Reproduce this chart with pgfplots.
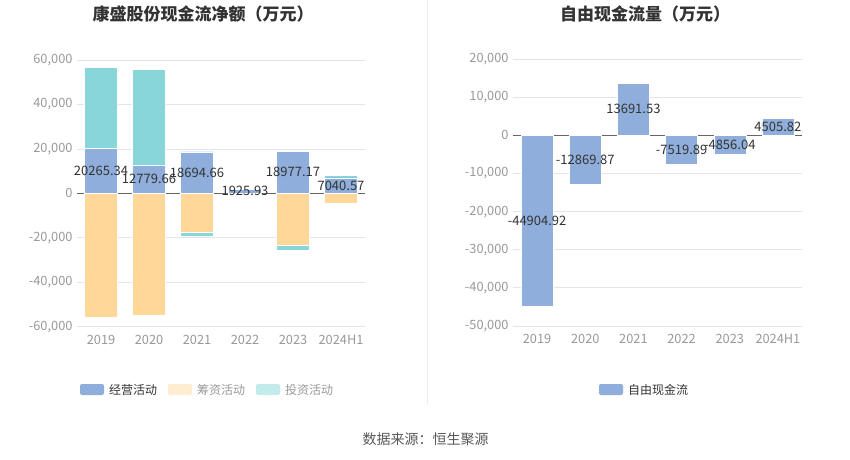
\documentclass[border=0pt]{standalone}
\usepackage{fontspec}
\setmainfont{Noto Sans CJK SC}
\usepackage{pgfplots}
\pgfplotsset{compat=1.18}
\usepackage{pgfplotstable}
\definecolor{opblue}{HTML}{8FAEDB}
\definecolor{finyel}{HTML}{FFD899}
\definecolor{invteal}{HTML}{88D6DA}
\definecolor{gridc}{HTML}{E0E6F1}
\definecolor{tickc}{HTML}{999999}
\definecolor{labc}{HTML}{333333}

\pgfplotstableread{
x op fin inv
0 20265.34 -55900 36400
1 12779.66 -55000 43100
2 18694.66 -17300 -2000
3 1925.93 -300 -200
4 18977.17 -23400 -2300
5 7040.57 -4400 1050
}\cashtable

\pgfplotstableread{
x fcf
0 -44904.92
1 -12869.87
2 13691.53
3 -7519.89
4 -4856.04
5 4505.82
}\fcftable

\pgfplotsset{
  mystyle/.style={
    scale only axis,
    xmin=-0.5, xmax=5.5,
    xtick={0,1,2,3,4,5},
    xticklabels={2019,2020,2021,2022,2023,2024H1},
    axis line style={draw=none},
    major tick length=0pt,
    ymajorgrids,
    grid style={gridc, line width=0.8pt},
    tick label style={font=\fontsize{12.8}{14}\selectfont, text=tickc},
    xticklabel style={yshift=-5pt},
    yticklabel style={xshift=-1pt},
    /pgf/number format/assume math mode=true,
    /pgf/number format/1000 sep={,},
    scaled y ticks=false,
    extra y ticks={0},
    extra y tick labels={},
    extra y tick style={grid=major, major grid style={draw=black!60, line width=0.8pt}},
    clip=false,
  },
  barlab/.style={
    only marks, mark=none,
    nodes near coords,
    every node near coord/.append style={anchor=center, font=\fontsize{13}{15}\selectfont, text=labc,
      /pgf/number format/.cd, fixed, fixed zerofill, precision=2, 1000 sep={}},
  },
}

\begin{document}
\begin{tikzpicture}[x=1pt,y=1pt]
\path[use as bounding box] (0,0) rectangle (850,459);
\fill[white] (0,0) rectangle (850,459);
% divider
\draw[draw=black!7, line width=0.8pt] (427,459) -- (427,54);

% titles
\node[font=\fontsize{17}{20}\selectfont\bfseries, text=labc] at (203,445) {康盛股份现金流净额（万元）};
\node[font=\fontsize{17}{20}\selectfont\bfseries, text=labc] at (645,445) {自由现金流量（万元）};

% left axis
\begin{axis}[mystyle,
  at={(77pt,132.3pt)}, anchor=south west,
  width=288pt, height=266.7pt,
  ymin=-60000, ymax=60000,
  ytick={-60000,-40000,-20000,0,20000,40000,60000},
]
\addplot[ybar, bar shift=0pt, bar width=33pt, fill=invteal, draw=white, line width=0.4pt]
  table[x=x, y expr={\thisrow{op}+max(\thisrow{inv},0)}] {\cashtable};
\addplot[ybar, bar shift=0pt, bar width=33pt, fill=invteal, draw=white, line width=0.4pt]
  table[x=x, y expr={\thisrow{fin}+min(\thisrow{inv},0)}] {\cashtable};
\addplot[ybar, bar shift=0pt, bar width=33pt, fill=opblue, draw=white, line width=0.4pt]
  table[x=x, y=op] {\cashtable};
\addplot[ybar, bar shift=0pt, bar width=33pt, fill=finyel, draw=white, line width=0.4pt]
  table[x=x, y=fin] {\cashtable};
\addplot[barlab, point meta=\thisrow{op}]
  table[x=x, y expr={\thisrow{op}/2}] {\cashtable};
\end{axis}

% right axis
\begin{axis}[mystyle,
  at={(513pt,133pt)}, anchor=south west,
  width=289pt, height=267pt,
  ymin=-50000, ymax=20000,
  ytick={-50000,-40000,-30000,-20000,-10000,0,10000,20000},
]
\addplot[ybar, bar shift=0pt, bar width=32pt, fill=opblue, draw=white, line width=0.4pt]
  table[x=x, y=fcf] {\fcftable};
\addplot[barlab, point meta=\thisrow{fcf}]
  table[x=x, y expr={\thisrow{fcf}/2}] {\fcftable};
\end{axis}

% legends
\fill[opblue, rounded corners=2pt] (80,64) rectangle (104,75);
\node[anchor=west, font=\fontsize{12}{14}\selectfont, text=labc, inner sep=0pt] at (109,69.5) {经营活动};
\fill[finyel!45, rounded corners=2pt] (168,64) rectangle (192,75);
\node[anchor=west, font=\fontsize{12}{14}\selectfont, text=tickc, inner sep=0pt] at (197,69.5) {筹资活动};
\fill[invteal!50, rounded corners=2pt] (256,64) rectangle (280,75);
\node[anchor=west, font=\fontsize{12}{14}\selectfont, text=tickc, inner sep=0pt] at (285,69.5) {投资活动};

\fill[opblue, rounded corners=2pt] (599,64) rectangle (623,75);
\node[anchor=west, font=\fontsize{12}{14}\selectfont, text=labc, inner sep=0pt] at (628,69.5) {自由现金流};

% footer
\node[font=\fontsize{14}{16}\selectfont, text=black!65] at (425.5,20) {数据来源：恒生聚源};
\end{tikzpicture}
\end{document}
